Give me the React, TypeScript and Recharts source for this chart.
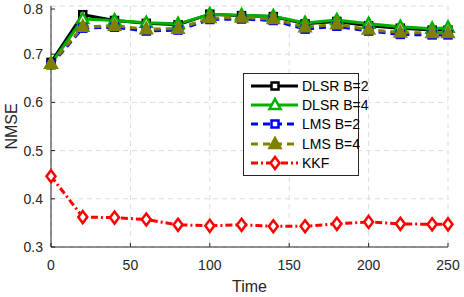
import React from "react";
import {
  LineChart,
  Line,
  XAxis,
  YAxis,
  CartesianGrid,
} from "recharts";

const times = [0, 20, 40, 60, 80, 100, 120, 140, 160, 180, 200, 220, 240, 250];
const dlsrB2 = [0.683, 0.782, 0.77, 0.764, 0.761, 0.783, 0.78, 0.778, 0.763, 0.768, 0.759, 0.754, 0.75, 0.75];
const dlsrB4 = [0.68, 0.773, 0.77, 0.765, 0.763, 0.783, 0.781, 0.779, 0.765, 0.771, 0.763, 0.757, 0.753, 0.755];
const lmsB2 = [0.678, 0.754, 0.756, 0.748, 0.75, 0.772, 0.773, 0.77, 0.752, 0.758, 0.748, 0.741, 0.74, 0.74];
const lmsB4 = [0.68, 0.757, 0.759, 0.752, 0.753, 0.775, 0.776, 0.773, 0.756, 0.762, 0.751, 0.745, 0.744, 0.744];
const kkf = [0.447, 0.362, 0.361, 0.357, 0.346, 0.344, 0.346, 0.343, 0.343, 0.348, 0.352, 0.348, 0.347, 0.347];

const xTicks = [0, 50, 100, 150, 200, 250];
const yTicks = [0.3, 0.4, 0.5, 0.6, 0.7, 0.8];

const data = times.map((t, i) => ({
  t,
  dlsrB2: dlsrB2[i],
  dlsrB4: dlsrB4[i],
  lmsB2: lmsB2[i],
  lmsB4: lmsB4[i],
  kkf: kkf[i],
}));

const FONT = "'Liberation Sans', Arial, Helvetica, sans-serif";
const AXIS = "#262626";

type Shape = "square" | "triangle" | "diamond";

function Marker({ cx, cy, shape, color, fill }: { cx: number; cy: number; shape: Shape; color: string; fill: string }) {
  if (cx == null || cy == null) return null;
  if (shape === "square") {
    return <rect x={cx - 3.5} y={cy - 3.5} width={7} height={7} fill={fill} stroke={color} strokeWidth={2.5} />;
  }
  if (shape === "triangle") {
    return (
      <polygon
        points={`${cx},${cy - 6} ${cx + 5.5},${cy + 4} ${cx - 5.5},${cy + 4}`}
        fill={fill}
        stroke={color}
        strokeWidth={2.5}
      />
    );
  }
  return (
    <polygon
      points={`${cx},${cy - 6} ${cx + 4.5},${cy} ${cx},${cy + 6} ${cx - 4.5},${cy}`}
      fill={fill}
      stroke={color}
      strokeWidth={2.5}
    />
  );
}

const series = [
  { key: "dlsrB2", name: "DLSR B=2", color: "#000000", dash: undefined, shape: "square" as Shape, fill: "#ffffff" },
  { key: "dlsrB4", name: "DLSR B=4", color: "#00b000", dash: undefined, shape: "triangle" as Shape, fill: "#ffffff" },
  { key: "lmsB2", name: "LMS B=2", color: "#0000ff", dash: "7 5", shape: "square" as Shape, fill: "#ffffff" },
  { key: "lmsB4", name: "LMS B=4", color: "#808000", dash: "7 5", shape: "triangle" as Shape, fill: "#808000" },
  { key: "kkf", name: "KKF", color: "#ff0000", dash: "7 3 2 3", shape: "diamond" as Shape, fill: "#ffffff" },
];

function BottomTick(props: any) {
  const { x, y, payload } = props;
  return (
    <g>
      <line x1={x} y1={y} x2={x} y2={y - 4} stroke={AXIS} strokeWidth={1} />
      <text x={x} y={y + 18} textAnchor="middle" dominantBaseline="central" fill={AXIS} fontSize={14} fontFamily={FONT}>
        {payload.value}
      </text>
    </g>
  );
}

function LeftTick(props: any) {
  const { x, y, payload } = props;
  return (
    <g>
      <line x1={x} y1={y} x2={x + 4} y2={y} stroke={AXIS} strokeWidth={1} />
      <text x={x - 8} y={y} textAnchor="end" dominantBaseline="central" fill={AXIS} fontSize={14} fontFamily={FONT}>
        {payload.value.toFixed(1)}
      </text>
    </g>
  );
}

function TopTick(props: any) {
  const { x, y } = props;
  return <line x1={x} y1={y} x2={x} y2={y + 4} stroke={AXIS} strokeWidth={1} />;
}

function RightTick(props: any) {
  const { x, y } = props;
  return <line x1={x} y1={y} x2={x - 4} y2={y} stroke={AXIS} strokeWidth={1} />;
}

function LegendBox() {
  return (
    <div
      style={{
        position: "absolute",
        left: 243,
        top: 73,
        border: "1px solid #262626",
        background: "#ffffff",
        width: 114,
        padding: "2px 0",
        fontFamily: FONT,
        fontSize: 14,
        color: "#000",
      }}
    >
      {series.map((s) => (
        <div key={s.key} style={{ display: "flex", alignItems: "center", height: 19.4 }}>
          <svg width={58} height={16} style={{ flex: "none" }}>
            <line x1={7} y1={8} x2={54} y2={8} stroke={s.color} strokeWidth={3} strokeDasharray={s.dash} />
            <Marker cx={31} cy={8} shape={s.shape} color={s.color} fill={s.fill} />
          </svg>
          <span style={{ whiteSpace: "nowrap" }}>{s.name}</span>
        </div>
      ))}
    </div>
  );
}

export default function App() {
  return (
    <div style={{ position: "absolute", left: 0, top: 0, width: 464, height: 297, background: "#fff" }}>
      <LineChart
        width={464}
        height={297}
        data={data}
        margin={{ top: 6, right: 16, left: 0, bottom: 0 }}
      >
        <CartesianGrid stroke="#dcdcdc" strokeDasharray="5 4" verticalValues={xTicks} horizontalValues={yTicks} />
        <XAxis
          dataKey="t"
          type="number"
          domain={[0, 250]}
          ticks={xTicks}
          height={50}
          tickSize={0}
          tickMargin={0}
          tickLine={false}
          stroke={AXIS}
          tick={<BottomTick />}
          label={{ value: "Time", position: "insideBottom", offset: 5, fill: AXIS, fontSize: 16, fontFamily: FONT }}
        />
        <XAxis
          xAxisId="top"
          dataKey="t"
          type="number"
          orientation="top"
          domain={[0, 250]}
          ticks={xTicks}
          height={0}
          tickSize={0}
          tickMargin={0}
          tickLine={false}
          stroke={AXIS}
          tick={<TopTick />}
        />
        <YAxis
          type="number"
          domain={[0.3, 0.8]}
          ticks={yTicks}
          width={51}
          tickSize={0}
          tickMargin={0}
          tickLine={false}
          stroke={AXIS}
          tick={<LeftTick />}
          label={{ value: "NMSE", angle: -90, position: "insideLeft", offset: 11, fill: AXIS, fontSize: 16, fontFamily: FONT, style: { textAnchor: "middle" } }}
        />
        <YAxis
          yAxisId="right"
          orientation="right"
          type="number"
          domain={[0.3, 0.8]}
          ticks={yTicks}
          width={0}
          tickSize={0}
          tickMargin={0}
          tickLine={false}
          stroke={AXIS}
          tick={<RightTick />}
        />
        {series.map((s) => (
          <Line
            key={s.key}
            dataKey={s.key}
            name={s.name}
            stroke={s.color}
            strokeWidth={3}
            strokeDasharray={s.dash}
            isAnimationActive={false}
            dot={(p: any) => <Marker key={`${s.key}-${p.index}`} cx={p.cx} cy={p.cy} shape={s.shape} color={s.color} fill={s.fill} />}
            activeDot={false}
          />
        ))}
      </LineChart>
      <LegendBox />
    </div>
  );
}
